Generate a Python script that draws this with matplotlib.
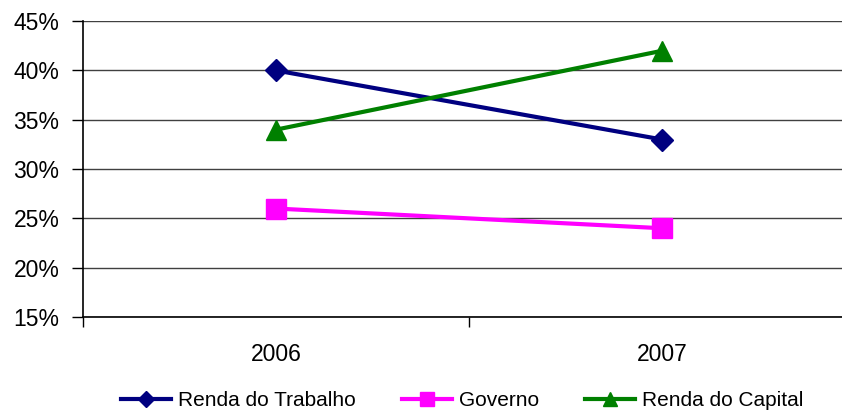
import matplotlib.pyplot as plt
from matplotlib.ticker import FuncFormatter

plt.rcParams['font.family'] = ['Liberation Sans', 'DejaVu Sans']

anos = ['2006', '2007']
renda_trabalho = [40, 33]
governo = [26, 24]
renda_capital = [34, 42]

fig = plt.figure(figsize=(8.42, 4.12), dpi=100)
ax = fig.add_axes([0.0986, 0.2306, 0.917, 0.718])

x = range(len(anos))
ax.plot(x, renda_trabalho, color='#000080', lw=3, marker='D', ms=11,
        label='Renda do Trabalho', zorder=3)
ax.plot(x, governo, color='#FF00FF', lw=3, marker='s', ms=14,
        label='Governo', zorder=3)
ax.plot(x, renda_capital, color='#008000', lw=3, marker='^', ms=15,
        label='Renda do Capital', zorder=3)

ax.set_xlim(-0.5, 1.5)
ax.set_ylim(15, 45)
ax.set_yticks(range(15, 46, 5))
ax.yaxis.set_major_formatter(FuncFormatter(lambda v, p: f'{v:.0f}%'))
ax.grid(axis='y', color='#404040', lw=1)

ax.set_xticks([-0.5, 0.5, 1.5])
ax.set_xticklabels([])
ax.set_xticks(list(x), minor=True)
ax.set_xticklabels(anos, minor=True)
ax.tick_params(axis='x', which='major', length=7, width=1, color='black')
ax.tick_params(axis='x', which='minor', length=0, pad=19, labelsize=16.5)
ax.tick_params(axis='y', length=8, width=1, labelsize=16.5, pad=9)

for s in ['top', 'right']:
    ax.spines[s].set_visible(False)
ax.spines['left'].set_linewidth(1.2)
ax.spines['bottom'].set_linewidth(1.2)

fig.legend(loc='center', bbox_to_anchor=(0.549, 0.027), ncol=3, frameon=False,
           fontsize=15, handlelength=2.4, markerscale=0.7, columnspacing=2.2,
           handletextpad=0.35)

fig.savefig('out.png', dpi=100)
